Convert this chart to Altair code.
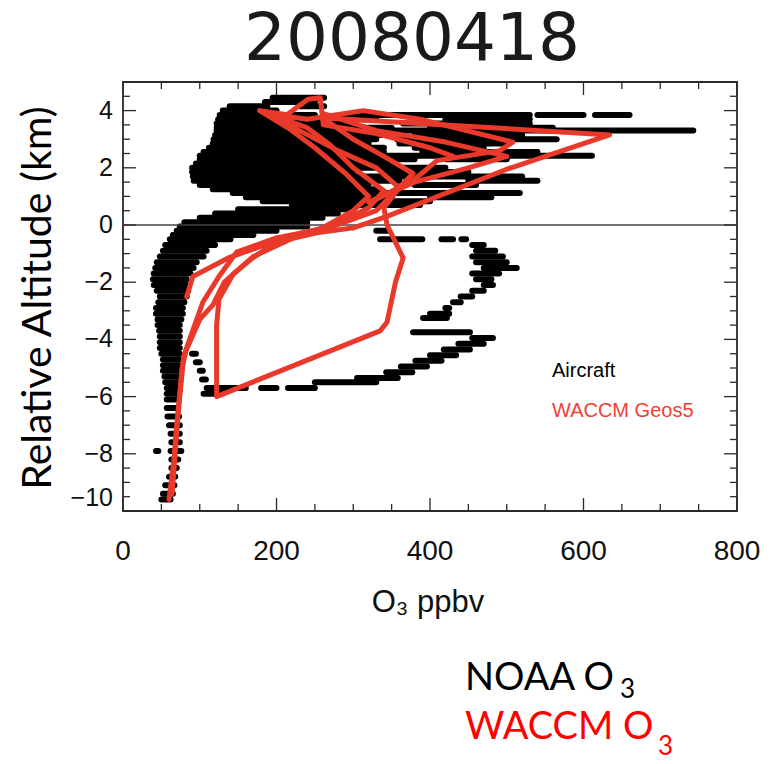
import altair as alt
import pandas as pd

# ---------------- data ----------------
# Aircraft (NOAA) ozone: horizontal streaks of samples, altitude (km) and O3 range (ppbv)
air_alt = [4.45, 4.3, 4.15, 4.15, 4.0,
           3.85, 3.85, 3.85, 3.85, 3.7, 3.7, 3.55, 3.55, 3.4, 3.4, 3.3,
           3.15, 3.15, 3.0, 3.0, 2.85, 2.85, 2.7, 2.7, 2.55, 2.55, 2.42,
           2.3, 2.3, 2.15, 2.0, 1.85, 1.85, 1.7, 1.55, 1.55, 1.4, 1.4,
           1.25, 1.12, 0.97, 0.97, 0.83, 0.7, 0.55, 0.4, 0.25, 0.1,
           -0.05, -0.2, -0.2, -0.35, -0.5, -0.5, -0.5, -0.5,
           -0.7, -0.7, -0.9, -0.9, -1.1, -1.1, -1.3, -1.3, -1.5, -1.5,
           -1.7, -1.7, -1.9, -1.9, -2.1, -2.1, -2.3, -2.3, -2.5, -2.5,
           -2.7, -2.7, -2.9, -2.9, -3.1, -3.1, -3.25, -3.3, -3.5,
           -3.7, -3.75, -3.9, -3.95, -4.1, -4.15, -4.3, -4.35, -4.5, -4.5, -4.55,
           -4.7, -4.75, -4.8, -4.9, -4.95, -5.1, -5.1, -5.15, -5.3, -5.35, -5.4,
           -5.5, -5.5, -5.7, -5.7, -5.7, -5.7, -5.9, -5.9,
           -6.1, -6.4, -6.7, -7.0, -7.3, -7.6, -7.9, -7.9,
           -8.2, -8.5, -8.8, -9.1, -9.4, -9.6]
air_o3_lo = [195, 185, 139, 230, 130,
             126, 283, 540, 615, 124, 420, 122, 365, 122, 400, 122,
             120, 380, 118, 357, 117, 360, 112, 380, 105, 390, 100,
             100, 420, 95, 90, 90, 340, 91, 92, 450, 100, 380,
             117, 143, 160, 400, 182, 220, 150, 120, 100, 80,
             74, 70, 330, 65, 61, 335, 415, 441,
             55, 455, 52, 460, 48, 455, 44, 460, 42, 470,
             40, 455, 39, 460, 40, 470, 44, 455, 48, 440,
             46, 430, 43, 420, 43, 400, 391, 45, 45,
             47, 378, 48, 455, 48, 437, 48, 418, 50, 90, 400,
             52, 381, 95, 52, 362, 52, 100, 343, 54, 305, 103,
             55, 250, 57, 109, 180, 215, 57, 105,
             57, 57, 58, 60, 62, 63, 62, 43,
             63, 63, 60, 55, 52, 50]
air_o3_hi = [262, 250, 188, 262, 200,
             250, 530, 600, 660, 330, 530, 300, 530, 350, 560, 743,
             350, 520, 330, 565, 320, 500, 340, 470, 340, 540, 611,
             380, 500, 350, 420, 300, 450, 520, 360, 540, 320, 460,
             330, 517, 350, 480, 400, 387, 300, 280, 260, 240,
             240, 200, 345, 170, 140, 390, 430, 447,
             120, 470, 109, 485, 105, 495, 96, 500, 92, 513,
             88, 490, 83, 480, 83, 482, 85, 470, 83, 455,
             80, 440, 78, 425, 78, 425, 422, 76, 74,
             74, 452, 74, 482, 74, 470, 74, 452, 74, 95, 434,
             74, 415, 100, 73, 396, 73, 104, 377, 73, 358, 108,
             72, 330, 72, 160, 200, 250, 72, 128,
             72, 72, 73, 74, 74, 74, 76, 46,
             72, 70, 68, 67, 65, 62]

# WACCM Geos5 ozone profiles along the flight (O3 ppbv, altitude km)
waccm1_o3 = [60, 66, 70, 75, 79, 92, 104, 125, 148, 200, 257, 300, 320, 290, 250, 215, 178,
             214, 241, 257, 261, 330, 400, 430]
waccm1_alt = [-9.6, -8.3, -7.0, -5.7, -4.6, -3.6, -2.7, -1.8, -0.95, -0.45, -0.15, 0.5, 1.0,
              1.8, 2.7, 3.4, 4.0, 3.86, 4.4, 4.45, 3.5, 3.2, 2.7, 2.4]
waccm2_o3 = [64, 68, 72, 77, 82, 100, 117, 132, 170, 230, 283, 320, 340, 300, 270, 240, 190,
             240, 313, 387, 508, 491, 409, 380, 330]
waccm2_alt = [-9.4, -8.0, -6.5, -5.0, -4.4, -3.3, -2.8, -2.0, -1.1, -0.35, 0.1, 0.6, 1.2,
              2.0, 2.8, 3.4, 3.9, 3.7, 4.0, 3.7, 2.9, 2.6, 2.25, 1.6, 0.9]
waccm3_o3 = [83, 91, 139, 213, 279, 330, 378, 340, 300, 260, 420, 634, 500, 344, 300]
waccm3_alt = [-2.5, -1.8, -1.13, -0.43, 0.0, 0.5, 1.8, 2.4, 3.0, 3.75, 3.5, 3.15, 1.95, 0.3, -0.1]
waccm4_o3 = [300, 257, 200, 170, 144, 125, 122, 122, 335, 344, 355, 365, 344, 340, 360, 330,
             280, 230, 200]
waccm4_alt = [-0.1, -0.25, -0.6, -1.13, -1.7, -2.6, -3.5, -6.0, -3.7, -3.4, -2.0, -1.15, 0.0,
              0.6, 1.3, 2.0, 2.6, 3.3, 3.8]
waccm5_o3 = [320, 380, 450, 500, 420, 330, 260]
waccm5_alt = [0.8, 1.5, 2.0, 2.4, 2.9, 3.3, 3.9]

# Axis ticks and tick labels
x_major = [0, 200, 400, 600, 800]
x_minor = [v for v in range(50, 800, 50) if v % 200 != 0]
y_major = [-10, -8, -6, -4, -2, 0, 2, 4]
y_minor = [v / 2 for v in range(-19, 10) if v % 4 != 0]

# ---------------- layout ----------------
W, H = 614, 429
X_SCALE = alt.Scale(domain=[0, 800], nice=False, zero=False)
Y_SCALE = alt.Scale(domain=[-10, 5], nice=False, zero=False)
RED = "#E8392B"
FRAME = "#2a2a2a"
LABEL_FONT = "Liberation Sans"

air = pd.DataFrame({"alt": air_alt, "lo": air_o3_lo, "hi": air_o3_hi})

rows = []
for pid, (xs, ys) in enumerate([(waccm1_o3, waccm1_alt), (waccm2_o3, waccm2_alt),
                                (waccm3_o3, waccm3_alt), (waccm4_o3, waccm4_alt),
                                (waccm5_o3, waccm5_alt)]):
    for i, (xv, yv) in enumerate(zip(xs, ys)):
        rows.append({"profile": pid, "i": i, "o3": xv, "alt": yv})
waccm = pd.DataFrame(rows)

aircraft = alt.Chart(air).mark_rule(color="black", strokeWidth=6, strokeCap="round").encode(
    x=alt.X("lo:Q", scale=X_SCALE, axis=None),
    x2="hi:Q",
    y=alt.Y("alt:Q", scale=Y_SCALE, axis=None),
)

zero = alt.Chart(pd.DataFrame({"z": [0]})).mark_rule(color="#444", strokeWidth=1.6).encode(
    y=alt.Y("z:Q", scale=Y_SCALE, axis=None))

lines = alt.Chart(waccm).mark_line(color=RED, strokeWidth=5, strokeJoin="round",
                                   strokeCap="round").encode(
    x=alt.X("o3:Q", scale=X_SCALE, axis=None),
    y=alt.Y("alt:Q", scale=Y_SCALE, axis=None),
    detail="profile:N",
    order="i:Q",
)


def xticks(vals, length):
    d = pd.DataFrame({"v": vals})
    base = alt.Chart(d).mark_rule(color=FRAME, strokeWidth=1.3)
    bottom = base.encode(x=alt.X("v:Q", scale=X_SCALE, axis=None),
                         y=alt.value(H), y2=alt.value(H - length))
    top = base.encode(x=alt.X("v:Q", scale=X_SCALE, axis=None),
                      y=alt.value(0), y2=alt.value(length))
    return bottom + top


def yticks(vals, length):
    d = pd.DataFrame({"v": vals})
    base = alt.Chart(d).mark_rule(color=FRAME, strokeWidth=1.3)
    left = base.encode(y=alt.Y("v:Q", scale=Y_SCALE, axis=None),
                       x=alt.value(0), x2=alt.value(length))
    right = base.encode(y=alt.Y("v:Q", scale=Y_SCALE, axis=None),
                        x=alt.value(W), x2=alt.value(W - length))
    return left + right


# tick labels, drawn through the scales
xlab_df = pd.DataFrame({"v": x_major, "t": [str(v) for v in x_major]})
x_labels = alt.Chart(xlab_df).mark_text(
    font=LABEL_FONT, fontSize=28, color="#111", align="center", baseline="alphabetic").encode(
    x=alt.X("v:Q", scale=X_SCALE, axis=None), y=alt.value(H + 49), text="t:N")

ylab_df = pd.DataFrame({"v": [v for v in y_major if v != -10],
                        "t": [str(v).replace("-", "\u2212") for v in y_major if v != -10]})
y_labels = alt.Chart(ylab_df).mark_text(
    font=LABEL_FONT, fontSize=25, color="#111", align="right", baseline="middle").encode(
    y=alt.Y("v:Q", scale=Y_SCALE, axis=None), x=alt.value(-10), text="t:N")
ylab_end = pd.DataFrame({"v": [-10], "t": ["\u221210"]})
y_label_end = alt.Chart(ylab_end).mark_text(
    font=LABEL_FONT, fontSize=25, color="#111", align="right", baseline="bottom").encode(
    y=alt.Y("v:Q", scale=Y_SCALE, axis=None), x=alt.value(-10), text="t:N")


def label(text, x, y, size, color="black", font=LABEL_FONT, angle=0, align="left",
          baseline="alphabetic"):
    kw = dict(text=text, fontSize=size, color=color, font=font, align=align, baseline=baseline)
    if angle:
        kw["angle"] = angle
    return alt.Chart(pd.DataFrame({"t": [text]})).mark_text(**kw).encode(
        x=alt.value(x), y=alt.value(y))


texts = [
    label("20080418", 289, -22, 66, color="#1a1a1a", font="DejaVu Sans", align="center"),
    label("Relative Altitude (km)", -84, 216, 41, font="Lato", angle=270,
          align="center", baseline="middle"),
    label("O₃ ppbv", 305, 530, 31, color="#111", align="center"),
    label("Aircraft", 429, 295, 20),
    label("WACCM Geos5", 429, 335, 20, color="#EE4035"),
    label("NOAA O", 342, 608, 38, font="Lato"),
    label("3", 497, 616, 26, font="Lato"),
    label("WACCM O", 342, 657, 38, color="#FF0000", font="Lato"),
    label("3", 535, 673, 26, color="#FF0000", font="Lato"),
]

chart = alt.layer(
    aircraft, zero, lines,
    xticks(x_major, 13), xticks(x_minor, 7),
    yticks(y_major, 13), yticks(y_minor, 7),
    x_labels, y_labels, y_label_end,
    *texts,
).properties(
    width=W, height=H,
    autosize=alt.AutoSizeParams(type="none"),
    padding={"left": 123, "top": 82, "right": 33, "bottom": 253},
    background="white",
).configure_view(stroke=FRAME, strokeWidth=1.8)

chart.save("out.html", embed_options={"renderer": "svg", "actions": False})
